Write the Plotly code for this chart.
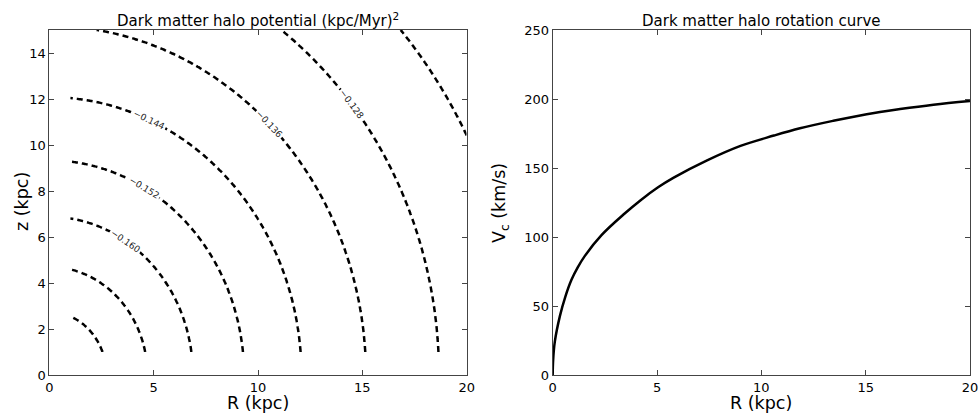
import numpy as np
import plotly.graph_objects as go

# ---- data ----
# Left panel: potential contour levels and the spherical radius (kpc) at which each level sits
pot_levels = [-0.176, -0.168, -0.160, -0.152, -0.144, -0.136, -0.128, -0.120]
pot_radius = [2.74, 4.70, 6.88, 9.33, 12.08, 15.17, 18.67, 22.55]
grid_R = [1.0, 20.0]     # extent of the computed grid (kpc)
grid_z = [1.0, 15.0]

# Right panel: rotation curve
rc_R = [0, 0.02, 0.1, 0.35, 0.6, 0.9, 1.2, 1.55, 2.35, 3.45, 4.2, 5.05, 5.8, 7.4, 9.0,
        10.6, 11.85, 13.45, 15.05, 16.65, 18.25, 20.0]
rc_V = [0, 10.5, 24, 43, 56.5, 69, 78, 86.5, 101.5, 117, 126.5, 136, 143, 155.5, 166,
        173.5, 178.8, 184.2, 189, 192.7, 195.9, 198.6]

x_ticks = [0, 5, 10, 15, 20]
z_ticks = [0, 2, 4, 6, 8, 10, 12, 14]
v_ticks = [0, 50, 100, 150, 200, 250]

# ---- build potential field on the grid from the read profile ----
rr = np.array(pot_radius)
pp = np.array(pot_levels)


def phi_of_r(r):
    out = np.interp(r, rr, pp)
    lo = r < rr[0]
    hi = r > rr[-1]
    out[lo] = pp[0] + (r[lo] - rr[0]) * (pp[1] - pp[0]) / (rr[1] - rr[0])
    out[hi] = pp[-1] + (r[hi] - rr[-1]) * (pp[-1] - pp[-2]) / (rr[-1] - rr[-2])
    return out


Rg = np.round(np.linspace(grid_R[0], grid_R[1], 191), 4)
Zg = np.round(np.linspace(grid_z[0], grid_z[1], 141), 4)
RR, ZZ = np.meshgrid(Rg, Zg)
PHI = np.round(phi_of_r(np.sqrt(RR ** 2 + ZZ ** 2)), 6)

FONT = "DejaVu Sans"
fig = go.Figure()

fig.add_trace(go.Contour(
    x=Rg, y=Zg, z=PHI,
    contours=dict(start=pot_levels[0], end=pot_levels[-1], size=0.008,
                  coloring="none", showlabels=True,
                  labelfont=dict(family=FONT, size=9, color="#222"),
                  labelformat=".3f"),
    line=dict(color="black", width=2.5, dash="6px,4px"),
    showscale=False, hoverinfo="skip",
    xaxis="x", yaxis="y",
))

fig.add_trace(go.Scatter(
    x=rc_R, y=rc_V, mode="lines",
    line=dict(color="black", width=2.5, shape="spline", smoothing=1.0),
    xaxis="x2", yaxis="y2", hoverinfo="skip", showlegend=False,
))

W, H = 978, 415
L1, R1 = 49.3 / W, 466.7 / W
L2, R2 = 552.7 / W, 970.0 / W
B, T = (H - 375) / H, (H - 30) / H

ax_common = dict(showgrid=False, zeroline=False, showline=True, linecolor="#444",
                 linewidth=1, mirror="ticks", ticks="inside", ticklen=5,
                 tickcolor="#444", tickwidth=1, automargin=False,
                 ticklabeloverflow="allow",
                 tickfont=dict(family=FONT, size=13, color="black"))

fig.update_layout(
    width=W, height=H,
    margin=dict(l=0, r=0, t=0, b=0, autoexpand=False),
    paper_bgcolor="white", plot_bgcolor="white",
    showlegend=False,
    font=dict(family=FONT, color="black"),
    xaxis=dict(domain=[L1, R1], range=[0, 20], tickvals=x_ticks, anchor="y", **ax_common),
    yaxis=dict(domain=[B, T], range=[0, 15], tickvals=z_ticks, anchor="x", **ax_common),
    xaxis2=dict(domain=[L2, R2], range=[0, 20], tickvals=x_ticks, anchor="y2", **ax_common),
    yaxis2=dict(domain=[B, T], range=[0, 250], tickvals=v_ticks, anchor="x2", **ax_common),
)

ann = [
    dict(text="Dark matter halo potential (kpc/Myr)<sup>2</sup>", x=(L1 + R1) / 2,
         y=1 - 20 / H, font=dict(size=15)),
    dict(text="Dark matter halo rotation curve", x=(L2 + R2) / 2,
         y=1 - 21 / H, font=dict(size=15)),
    dict(text="R (kpc)", x=(L1 + R1) / 2, y=(H - 403) / H, font=dict(size=17.5)),
    dict(text="R (kpc)", x=(L2 + R2) / 2, y=(H - 403) / H, font=dict(size=17.5)),
    dict(text="z (kpc)", x=22 / W, y=(H - 202) / H, textangle=-90, font=dict(size=17.5)),
    dict(text="V<sub>c</sub> (km/s)", x=500 / W, y=(H - 203) / H, textangle=-90,
         font=dict(size=17.5)),
]
for a in ann:
    fig.add_annotation(xref="paper", yref="paper", showarrow=False,
                       xanchor="center", yanchor="middle",
                       font=dict(family=FONT, color="black", size=a["font"]["size"]),
                       **{k: v for k, v in a.items() if k != "font"})

fig.write_html("out.html")
